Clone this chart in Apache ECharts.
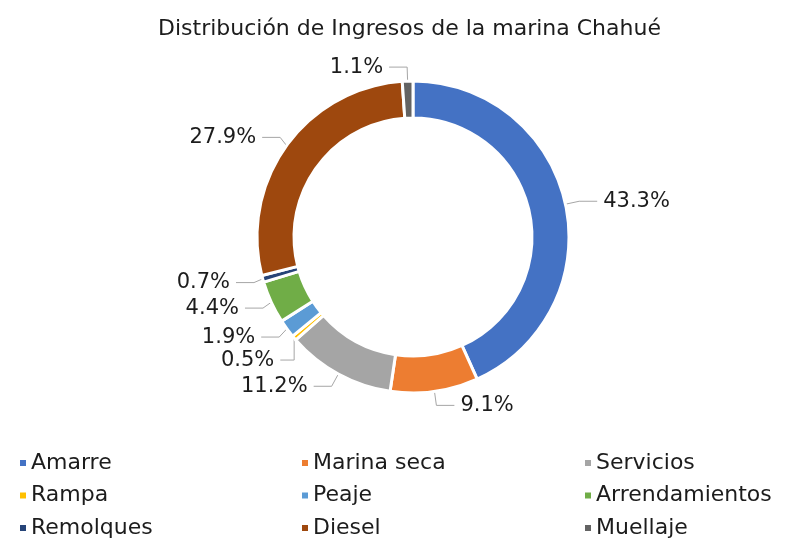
<!DOCTYPE html>
<html>
<head>
<meta charset="utf-8">
<script src="https://cdn.jsdelivr.net/npm/echarts@6/dist/echarts.min.js"></script>
<style>
html,body{margin:0;padding:0;background:#fff;}
#chart{width:790px;height:544px;}
</style>
</head>
<body>
<div id="chart"></div>
<script>
const title = "Distribución de Ingresos de la marina Chahué";
const categories = ["Amarre","Marina seca","Servicios","Rampa","Peaje","Arrendamientos","Remolques","Diesel","Muellaje"];
const values = [43.3, 9.1, 11.2, 0.5, 1.9, 4.4, 0.7, 27.9, 1.1];
const colors = ["#4472C4","#ED7D31","#A5A5A5","#FFC000","#5B9BD5","#70AD47","#264478","#9E480E","#636363"];

const FONT = "'DejaVu Sans', sans-serif";
const TXT = "#1c1c1c";

const data = categories.map((c, i) => ({ name: c, value: values[i], itemStyle: { color: colors[i] } }));

const legendCols = [0, 1, 2].map(col => categories.filter((c, i) => i % 3 === col));
const legendLefts = [18, 300, 583];

const chart = echarts.init(document.getElementById('chart'), null, { renderer: 'canvas' });
chart.setOption({
  animation: false,
  backgroundColor: '#fff',
  title: {
    text: title,
    left: 153,
    top: 13,
    textStyle: { fontFamily: FONT, fontSize: 22, fontWeight: 'normal', color: TXT }
  },
  legend: legendCols.map((d, k) => ({
    data: d,
    orient: 'vertical',
    left: legendLefts[k],
    top: 451,
    height: 95,
    padding: 0,
    icon: 'rect',
    itemWidth: 8,
    itemHeight: 8,
    itemGap: 8.5,
    selectedMode: false,
    textStyle: { fontFamily: FONT, fontSize: 22, color: TXT, lineHeight: 24, padding: [0, 0, 0, -1] }
  })),
  series: [{
    type: 'pie',
    center: [413, 237],
    radius: [119, 156],
    startAngle: 90,
    clockwise: true,
    avoidLabelOverlap: true,
    itemStyle: { borderColor: '#fff', borderWidth: 3 },
    label: {
      show: true,
      position: 'outside',
      formatter: p => p.value.toFixed(1) + '%',
      fontFamily: FONT,
      fontSize: 21,
      color: TXT,
      padding: [5, 1]
    },
    labelLine: {
      show: true,
      length: 14,
      length2: 18,
      lineStyle: { color: '#A6A6A6', width: 1 }
    },
    data: data
  }]
});
</script>
</body>
</html>
